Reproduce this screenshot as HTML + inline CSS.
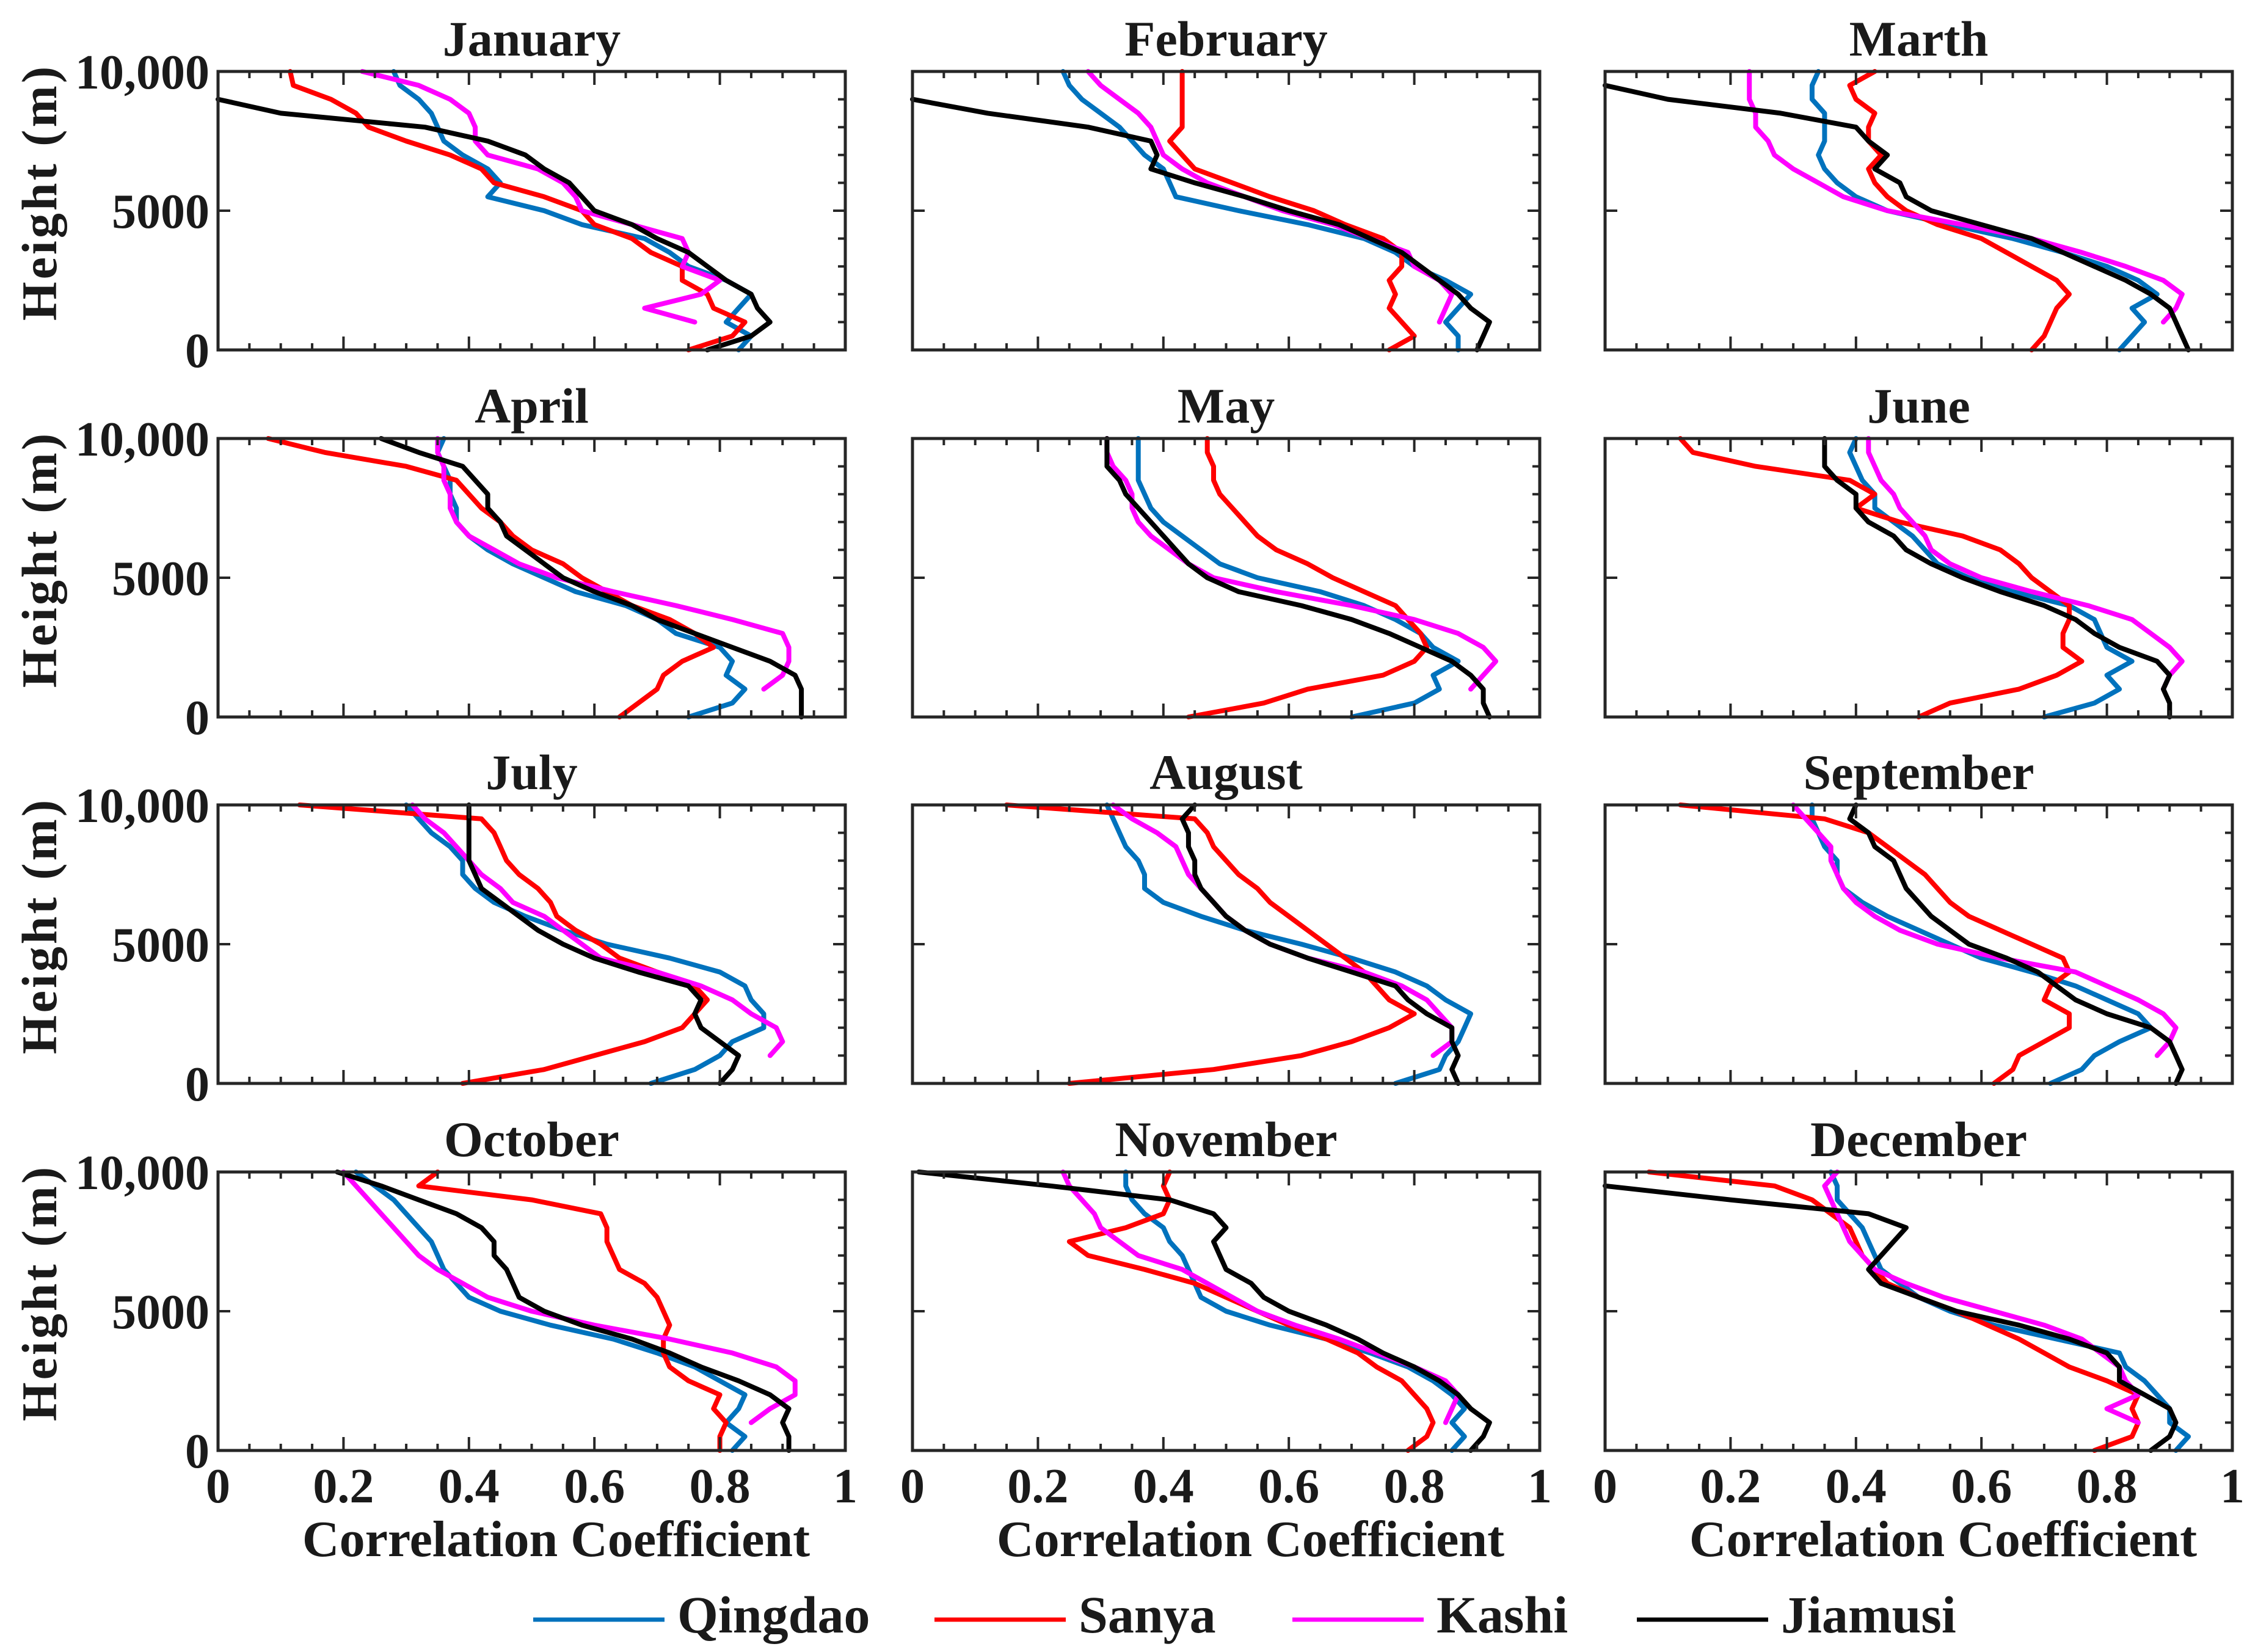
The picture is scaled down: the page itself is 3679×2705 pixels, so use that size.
<!DOCTYPE html>
<html><head><meta charset="utf-8"><style>
html,body{margin:0;padding:0;background:#fff;}
svg{display:block;}
text{font-family:"Liberation Serif",serif;font-weight:bold;fill:#1a1a1a;}
</style></head><body>
<svg id="chart" width="3679" height="2705" viewBox="0 0 3679 2705" xmlns="http://www.w3.org/2000/svg"></svg>
<script>
const heights=[0,500,1000,1500,2000,2500,3000,3500,4000,4500,5000,5500,6000,6500,7000,7500,8000,8500,9000,9500,10000];
const months=["January","February","Marth","April","May","June","July","August","September","October","November","December"];
const xTicks=[0,0.2,0.4,0.6,0.8,1];
const xTickLabels=["0","0.2","0.4","0.6","0.8","1"];
const yTicks=[0,5000,10000];
const yTickLabels=["0","5000","10,000"];
const stations=["Qingdao","Sanya","Kashi","Jiamusi"];
const colors=["#0072bd","#ff0000","#ff00ff","#000000"];
const qingdao=[
[0.83,0.85,0.81,0.83,0.85,0.81,0.75,0.72,0.68,0.58,0.52,0.43,0.45,0.43,0.39,0.36,0.35,0.34,0.32,0.29,0.28],
[0.87,0.87,0.85,0.87,0.89,0.85,0.80,0.77,0.72,0.63,0.52,0.42,0.41,0.40,0.37,0.35,0.33,0.30,0.27,0.25,0.24],
[0.82,0.84,0.86,0.84,0.88,0.85,0.80,0.73,0.65,0.55,0.45,0.40,0.37,0.35,0.34,0.35,0.35,0.35,0.33,0.33,0.34],
[0.75,0.82,0.84,0.81,0.82,0.80,0.73,0.70,0.65,0.57,0.52,0.47,0.43,0.40,0.38,0.38,0.37,0.37,0.36,0.35,0.36],
[0.70,0.80,0.84,0.83,0.87,0.83,0.81,0.77,0.72,0.65,0.55,0.49,0.46,0.43,0.40,0.38,0.37,0.36,0.36,0.36,0.36],
[0.70,0.78,0.82,0.80,0.84,0.80,0.79,0.78,0.74,0.65,0.58,0.53,0.51,0.49,0.46,0.43,0.43,0.41,0.40,0.39,0.40],
[0.69,0.76,0.80,0.82,0.87,0.87,0.85,0.84,0.80,0.72,0.62,0.55,0.49,0.44,0.41,0.39,0.39,0.37,0.34,0.32,0.30],
[0.77,0.84,0.85,0.87,0.88,0.89,0.85,0.82,0.77,0.70,0.62,0.53,0.46,0.40,0.37,0.37,0.36,0.34,0.33,0.32,0.31],
[0.71,0.76,0.78,0.82,0.87,0.85,0.80,0.75,0.68,0.60,0.55,0.50,0.45,0.41,0.38,0.37,0.37,0.35,0.34,0.33,0.33],
[0.82,0.84,0.81,0.83,0.84,0.80,0.76,0.70,0.63,0.53,0.45,0.40,0.38,0.36,0.35,0.34,0.32,0.30,0.28,0.25,0.22],
[0.86,0.88,0.86,0.88,0.86,0.83,0.79,0.73,0.66,0.57,0.50,0.46,0.45,0.44,0.43,0.41,0.40,0.37,0.35,0.34,0.34],
[0.91,0.93,0.90,0.90,0.88,0.86,0.83,0.82,0.72,0.62,0.55,0.50,0.47,0.44,0.43,0.42,0.41,0.39,0.37,0.37,0.36]];
const sanya=[
[0.75,0.82,0.84,0.79,0.78,0.74,0.74,0.69,0.66,0.60,0.58,0.52,0.44,0.42,0.37,0.30,0.24,0.22,0.18,0.12,0.115],
[0.76,0.80,0.78,0.76,0.77,0.76,0.78,0.78,0.75,0.69,0.64,0.57,0.51,0.45,0.43,0.41,0.43,0.43,0.43,0.43,0.43],
[0.68,0.70,0.71,0.72,0.74,0.72,0.68,0.64,0.60,0.53,0.48,0.45,0.43,0.42,0.44,0.42,0.42,0.43,0.40,0.39,0.43],
[0.64,0.67,0.70,0.71,0.74,0.79,0.76,0.72,0.66,0.62,0.58,0.55,0.50,0.47,0.45,0.42,0.40,0.38,0.30,0.17,0.08],
[0.44,0.56,0.63,0.75,0.80,0.82,0.81,0.79,0.77,0.72,0.67,0.63,0.58,0.55,0.53,0.51,0.49,0.48,0.48,0.47,0.47],
[0.50,0.55,0.66,0.72,0.76,0.73,0.73,0.74,0.74,0.71,0.68,0.66,0.63,0.57,0.47,0.40,0.43,0.39,0.24,0.14,0.12],
[0.39,0.52,0.60,0.68,0.74,0.76,0.78,0.76,0.70,0.64,0.61,0.57,0.54,0.53,0.51,0.48,0.46,0.45,0.44,0.42,0.13],
[0.25,0.48,0.62,0.70,0.76,0.80,0.76,0.74,0.72,0.69,0.66,0.63,0.60,0.57,0.55,0.52,0.50,0.48,0.47,0.45,0.15],
[0.62,0.65,0.66,0.70,0.74,0.74,0.70,0.71,0.74,0.73,0.68,0.63,0.58,0.55,0.53,0.51,0.48,0.45,0.42,0.35,0.12],
[0.80,0.80,0.81,0.79,0.80,0.75,0.72,0.71,0.71,0.72,0.71,0.70,0.68,0.64,0.63,0.62,0.62,0.61,0.50,0.32,0.35],
[0.79,0.82,0.83,0.82,0.80,0.78,0.74,0.71,0.66,0.60,0.55,0.50,0.45,0.37,0.28,0.25,0.34,0.40,0.41,0.40,0.41],
[0.78,0.84,0.85,0.84,0.85,0.80,0.74,0.70,0.66,0.61,0.56,0.50,0.45,0.43,0.41,0.40,0.39,0.36,0.33,0.27,0.07]];
const kashi=[
[null,null,0.76,0.68,0.77,0.80,0.74,0.75,0.74,0.66,0.58,0.57,0.55,0.51,0.43,0.41,0.41,0.40,0.37,0.32,0.23],
[null,null,0.84,0.85,0.86,0.84,0.80,0.79,0.73,0.67,0.59,0.53,0.47,0.43,0.40,0.39,0.38,0.36,0.33,0.30,0.28],
[null,null,0.89,0.91,0.92,0.89,0.83,0.76,0.68,0.57,0.45,0.38,0.34,0.30,0.27,0.26,0.24,0.24,0.23,0.23,0.23],
[null,null,0.87,0.90,0.91,0.91,0.90,0.82,0.73,0.63,0.54,0.48,0.44,0.40,0.38,0.37,0.37,0.36,0.36,0.35,0.35],
[null,null,0.89,0.91,0.93,0.91,0.87,0.80,0.70,0.58,0.48,0.44,0.41,0.38,0.36,0.35,0.35,0.34,0.32,0.31,0.31],
[null,null,0.89,0.90,0.92,0.90,0.87,0.84,0.77,0.68,0.60,0.55,0.52,0.51,0.49,0.47,0.46,0.44,0.43,0.42,0.42],
[null,null,0.88,0.90,0.89,0.85,0.82,0.77,0.70,0.61,0.58,0.55,0.52,0.47,0.45,0.42,0.40,0.38,0.36,0.33,0.31],
[null,null,0.83,0.86,0.86,0.84,0.82,0.78,0.72,0.63,0.57,0.53,0.50,0.48,0.46,0.44,0.43,0.42,0.39,0.35,0.32],
[null,null,0.88,0.90,0.91,0.89,0.85,0.80,0.75,0.63,0.53,0.47,0.43,0.40,0.38,0.37,0.36,0.36,0.34,0.32,0.30],
[null,null,0.85,0.88,0.92,0.92,0.89,0.82,0.72,0.60,0.50,0.43,0.39,0.35,0.32,0.30,0.28,0.26,0.24,0.22,0.20],
[null,null,0.85,0.86,0.87,0.85,0.80,0.74,0.68,0.61,0.55,0.51,0.47,0.43,0.36,0.33,0.30,0.29,0.27,0.25,0.24],
[null,null,0.85,0.80,0.85,0.83,0.82,0.79,0.76,0.70,0.62,0.54,0.48,0.43,0.41,0.39,0.38,0.37,0.36,0.35,0.37]];
const jiamusi=[
[0.78,0.85,0.88,0.86,0.85,0.81,0.78,0.75,0.70,0.66,0.60,0.58,0.56,0.52,0.49,0.43,0.33,0.10,0.0,null,null],
[0.90,0.91,0.92,0.89,0.87,0.84,0.81,0.78,0.73,0.68,0.60,0.53,0.45,0.38,0.39,0.38,0.28,0.12,0.0,null,null],
[0.93,0.92,0.91,0.90,0.87,0.83,0.78,0.73,0.68,0.60,0.52,0.48,0.47,0.43,0.45,0.42,0.40,0.28,0.10,0.0,null],
[0.93,0.93,0.93,0.92,0.88,0.82,0.76,0.70,0.66,0.60,0.55,0.52,0.49,0.46,0.45,0.43,0.43,0.41,0.39,0.32,0.26],
[0.92,0.91,0.91,0.89,0.86,0.81,0.76,0.70,0.62,0.52,0.47,0.44,0.42,0.40,0.38,0.36,0.34,0.33,0.31,0.31,0.31],
[0.90,0.90,0.89,0.90,0.88,0.82,0.78,0.75,0.70,0.63,0.57,0.52,0.48,0.46,0.42,0.40,0.40,0.37,0.35,0.35,0.35],
[0.80,0.82,0.83,0.80,0.77,0.76,0.77,0.75,0.67,0.60,0.55,0.51,0.48,0.45,0.42,0.41,0.40,0.40,0.40,0.40,0.40],
[0.87,0.86,0.87,0.86,0.86,0.82,0.79,0.77,0.70,0.63,0.57,0.53,0.50,0.48,0.46,0.45,0.45,0.44,0.44,0.43,0.45],
[0.91,0.92,0.91,0.90,0.87,0.80,0.75,0.72,0.69,0.64,0.58,0.55,0.52,0.50,0.48,0.47,0.46,0.43,0.42,0.39,0.40],
[0.91,0.91,0.90,0.91,0.88,0.83,0.77,0.72,0.66,0.58,0.52,0.48,0.47,0.46,0.44,0.44,0.42,0.38,0.32,0.26,0.19],
[0.89,0.91,0.92,0.89,0.87,0.84,0.80,0.75,0.71,0.66,0.60,0.56,0.54,0.50,0.49,0.48,0.50,0.48,0.41,0.22,0.01],
[0.87,0.90,0.91,0.90,0.86,0.82,0.82,0.80,0.74,0.66,0.56,0.50,0.44,0.42,0.44,0.46,0.48,0.42,0.20,0.0,null]];
const series=[qingdao,sanya,kashi,jiamusi];

const NS="http://www.w3.org/2000/svg";
const svg=document.getElementById('chart');
const colX=[357,1494,2628], rowY=[117,718,1318,1919], PW=1027, PH=456;
function mk(tag,attrs,parent){const e=document.createElementNS(NS,tag);for(const k in attrs)e.setAttribute(k,attrs[k]);(parent||svg).appendChild(e);return e;}

months.forEach((m,i)=>{
  const c=i%3, r=Math.floor(i/3);
  const x0=colX[c], y0=rowY[r];
  const sx=v=>x0+v*PW, sy=h=>y0+PH-h/10000*PH;
  const g=mk('g',{});
  
  
  const t=mk('text',{x:x0+PW/2,y:y0-26,'text-anchor':'middle','font-size':82},g);
  t.textContent=m;
  
  
  series.forEach((s,si)=>{
    const vals=s[i]; let d='';let pen=false;
    heights.forEach((h,k)=>{const v=vals[k]; if(v===null){pen=false;return;} d+=(pen?'L':'M')+sx(v).toFixed(1)+' '+sy(h).toFixed(1);pen=true;});
    const p=mk('path',{d:d,fill:'none',stroke:colors[si],'stroke-width':8,'stroke-linejoin':'round','stroke-linecap':'round'},g);
    
    
  });
  let td='';
  for(let k=0;k<=20;k++){const v=k*0.05;const L=(k%4===0)?22:11;td+=`M${sx(v)} ${y0+PH}v${-L}M${sx(v)} ${y0}v${L}`;}
  for(let k=0;k<=10;k++){const h=k*1000;const L=(k%5===0)?20:12;td+=`M${x0+PW} ${sy(h)}h${-L}`;}
  yTicks.forEach(h=>{td+=`M${x0} ${sy(h)}h20`;});
  const tk=mk('path',{d:td,stroke:'#262626','stroke-width':4,fill:'none'},g);
  
  
  const box=mk('rect',{x:x0,y:y0,width:PW,height:PH,fill:'none',stroke:'#262626','stroke-width':5},g);
  
  
  if(c===0){
    yTicks.forEach((h,k)=>{const tl=mk('text',{x:x0-14,y:sy(h)+28,'text-anchor':'end','font-size':80},g);tl.textContent=yTickLabels[k];
      
      });
    const yl=mk('text',{x:0,y:0,'text-anchor':'middle','font-size':82,'letter-spacing':4,transform:`translate(92 ${y0+PH/2-30}) rotate(-90)`},g);
    yl.textContent='Height (m)';
    
    
  }
  if(r===3){
    xTicks.forEach((v,k)=>{const tl=mk('text',{x:sx(v),y:2460,'text-anchor':'middle','font-size':80},g);tl.textContent=xTickLabels[k];
      
      });
    const xl=mk('text',{x:x0+PW/2+40,y:2548,'text-anchor':'middle','font-size':84},g);
    xl.textContent='Correlation Coefficient';
    
    
  }
});
const lgX=[873,1530,2116,2680];
const lg=mk('g',{});


stations.forEach((s,si)=>{
  const ln=mk('line',{x1:lgX[si],x2:lgX[si]+215,y1:2652,y2:2652,stroke:colors[si],'stroke-width':7},lg);
  
  
  const tx=mk('text',{x:lgX[si]+236,y:2673,'font-size':86},lg);
  tx.textContent=s;
  
  
});
</script>
</body></html>
